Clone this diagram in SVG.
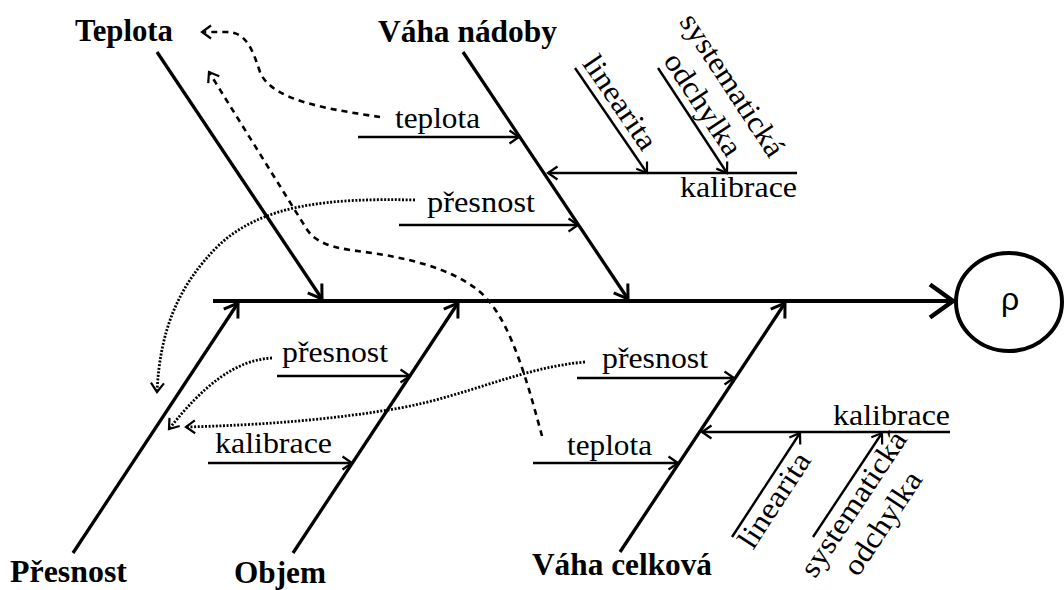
<svg xmlns="http://www.w3.org/2000/svg" width="1064" height="590" viewBox="0 0 1064 590">
  <defs>
    <style>
      .cause { font-family: "Liberation Serif", "Times New Roman", serif; font-weight: bold; font-size: 31px; fill: #000; }
      .sub { font-family: "Liberation Serif", "Times New Roman", serif; font-size: 30px; fill: #000; }
      .rho { font-family: "Liberation Sans", Arial, sans-serif; font-size: 32px; fill: #000; }
      .spine { stroke: #000; stroke-width: 4; fill: none; marker-end: url(#head-main); }
      .bone { stroke: #000; stroke-width: 3.3; fill: none; marker-end: url(#head-bone); }
      .twig { stroke: #000; stroke-width: 2.4; fill: none; marker-end: url(#head-twig); }
      .dashed { stroke: #000; stroke-width: 2.6; fill: none; stroke-dasharray: 6 5; marker-end: url(#head-link); }
      .dotted { stroke: #000; stroke-width: 2.8; fill: none; stroke-dasharray: 2 1.6; marker-end: url(#head-link); }
    </style>
    <marker id="head-main" markerUnits="userSpaceOnUse" orient="auto" refX="0" refY="0" markerWidth="30" markerHeight="40" overflow="visible">
      <path d="M-23,-16.5 L0,0 L-23,16.5" fill="none" stroke="#000" stroke-width="4.5"/>
    </marker>
    <marker id="head-bone" markerUnits="userSpaceOnUse" orient="auto" refX="0" refY="0" markerWidth="20" markerHeight="20" overflow="visible">
      <path d="M-13,-8.5 L0,0 L-13,8.5" fill="none" stroke="#000" stroke-width="3"/>
    </marker>
    <marker id="head-twig" markerUnits="userSpaceOnUse" orient="auto" refX="0" refY="0" markerWidth="16" markerHeight="16" overflow="visible">
      <path d="M-9.5,-6.5 L0,0 L-9.5,6.5" fill="none" stroke="#000" stroke-width="2.2"/>
    </marker>
    <marker id="head-link" markerUnits="userSpaceOnUse" orient="auto" refX="0" refY="0" markerWidth="16" markerHeight="16" overflow="visible">
      <path d="M-9,-6.5 L0,0 L-9,6.5" fill="none" stroke="#000" stroke-width="2.2"/>
    </marker>
  </defs>

  <rect width="1064" height="590" fill="#fff"/>

  <g id="connectors">
    <!-- spine and main bones -->
    <line class="spine" x1="213" y1="301" x2="953" y2="301"/>
    <line class="bone" x1="157" y1="52" x2="322" y2="299"/>
    <line class="bone" x1="463" y1="52" x2="628" y2="299"/>
    <line class="bone" x1="73" y1="553" x2="238" y2="303"/>
    <line class="bone" x1="293" y1="553" x2="458" y2="303"/>
    <line class="bone" x1="620" y1="552" x2="785" y2="303"/>

    <!-- branches on "Váha nádoby" -->
    <line class="twig" x1="358" y1="137" x2="519" y2="137"/>
    <line class="twig" x1="399" y1="225" x2="578" y2="225"/>
    <line class="twig" x1="797" y1="173" x2="548" y2="173"/>
    <line class="twig" x1="575" y1="68" x2="647" y2="173"/>
    <line class="twig" x1="658" y1="68" x2="727" y2="173"/>

    <!-- branches on "Objem" -->
    <line class="twig" x1="277" y1="376" x2="410" y2="376"/>
    <line class="twig" x1="208" y1="463" x2="352" y2="463"/>

    <!-- branches on "Váha celková" -->
    <line class="twig" x1="577" y1="378" x2="734" y2="378"/>
    <line class="twig" x1="533" y1="463" x2="678" y2="463"/>
    <line class="twig" x1="950" y1="432" x2="702" y2="432"/>
    <line class="twig" x1="732" y1="537" x2="800" y2="433"/>
    <line class="twig" x1="813" y1="537" x2="882" y2="433"/>

    <!-- cross links: teplota -->
    <path class="dashed" d="M380,117 C335,110 272,102 260,72 C252,48 246,32 226,32 L202,32"/>
    <path class="dashed" d="M542,436 C530,392 514,330 488,300 C466,274 420,260 372,253 C345,249 318,248 306,228 L209,72"/>

    <!-- cross links: přesnost -->
    <path class="dotted" d="M415,200 C330,198 262,204 218,246 C178,286 160,330 157,392"/>
    <path class="dotted" d="M272,358 C235,360 203,386 169,429"/>
    <path class="dotted" d="M585,362 C520,368 470,395 400,408 C330,420 262,425 186,427"/>
  </g>

  <g id="effect">
    <ellipse cx="1009" cy="302" rx="53" ry="49" fill="none" stroke="#000" stroke-width="4"/>
    <text class="rho" x="1010" y="310" text-anchor="middle">ρ</text>
  </g>

  <g id="cause-teplota">
    <text class="cause" x="75" y="41" textLength="98" lengthAdjust="spacingAndGlyphs">Teplota</text>
  </g>
  <g id="cause-vaha-nadoby">
    <text class="cause" x="378" y="42" textLength="179" lengthAdjust="spacingAndGlyphs">Váha nádoby</text>
  </g>
  <g id="cause-presnost">
    <text class="cause" x="10" y="582" textLength="117" lengthAdjust="spacingAndGlyphs">Přesnost</text>
  </g>
  <g id="cause-objem">
    <text class="cause" x="234" y="583" textLength="92" lengthAdjust="spacingAndGlyphs">Objem</text>
  </g>
  <g id="cause-vaha-celkova">
    <text class="cause" x="532" y="575" textLength="180" lengthAdjust="spacingAndGlyphs">Váha celková</text>
  </g>

  <g id="vn-teplota">
    <text class="sub" x="395" y="128" textLength="85" lengthAdjust="spacingAndGlyphs">teplota</text>
  </g>
  <g id="vn-presnost">
    <text class="sub" x="427" y="212" textLength="108" lengthAdjust="spacingAndGlyphs">přesnost</text>
  </g>
  <g id="vn-kalibrace">
    <text class="sub" x="680" y="197" textLength="117" lengthAdjust="spacingAndGlyphs">kalibrace</text>
  </g>
  <g id="vn-linearita" transform="translate(575,68) rotate(55.6)">
    <text class="sub" x="54" y="-8" text-anchor="middle" textLength="108" lengthAdjust="spacingAndGlyphs">linearita</text>
  </g>
  <g id="vn-odchylka" transform="translate(658,68) rotate(56.7)">
    <text class="sub" x="55" y="-43" text-anchor="middle" textLength="165" lengthAdjust="spacingAndGlyphs">systematická</text>
    <text class="sub" x="55" y="-8" text-anchor="middle" textLength="117" lengthAdjust="spacingAndGlyphs">odchylka</text>
  </g>

  <g id="ob-presnost">
    <text class="sub" x="282" y="362" textLength="106" lengthAdjust="spacingAndGlyphs">přesnost</text>
  </g>
  <g id="ob-kalibrace">
    <text class="sub" x="215" y="453" textLength="117" lengthAdjust="spacingAndGlyphs">kalibrace</text>
  </g>

  <g id="vc-presnost">
    <text class="sub" x="602" y="368" textLength="106" lengthAdjust="spacingAndGlyphs">přesnost</text>
  </g>
  <g id="vc-teplota">
    <text class="sub" x="567" y="455" textLength="85" lengthAdjust="spacingAndGlyphs">teplota</text>
  </g>
  <g id="vc-kalibrace">
    <text class="sub" x="833" y="425" textLength="117" lengthAdjust="spacingAndGlyphs">kalibrace</text>
  </g>
  <g id="vc-linearita" transform="translate(732,537) rotate(-56.8)">
    <text class="sub" x="54" y="25" text-anchor="middle" textLength="108" lengthAdjust="spacingAndGlyphs">linearita</text>
  </g>
  <g id="vc-odchylka" transform="translate(813,537) rotate(-56.4)">
    <text class="sub" x="50" y="25" text-anchor="middle" textLength="168" lengthAdjust="spacingAndGlyphs">systematická</text>
    <text class="sub" x="50" y="60" text-anchor="middle" textLength="118" lengthAdjust="spacingAndGlyphs">odchylka</text>
  </g>
</svg>
